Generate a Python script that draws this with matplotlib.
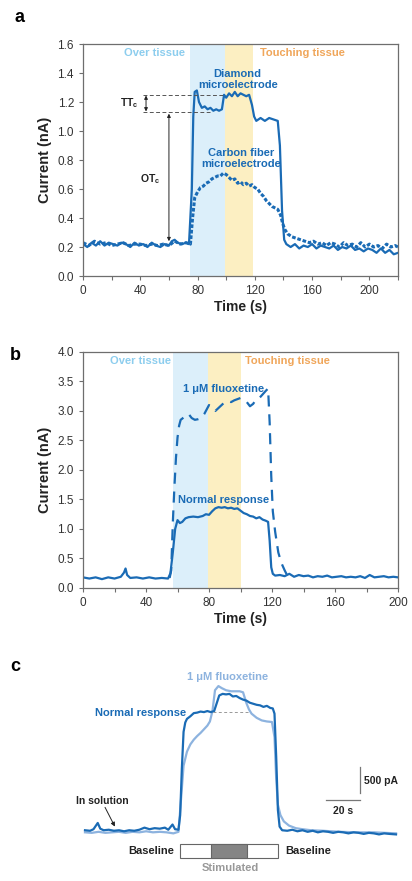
import matplotlib.pyplot as plt
from matplotlib.patches import Rectangle

plt.rcParams['font.family'] = ['Liberation Sans', 'DejaVu Sans']

# ---- panel a data (time s, current nA)
a_dia_t = [0, 3, 6, 9, 12, 15, 18, 21, 24, 27, 30, 33, 36, 39, 42, 45, 48, 51, 54, 57, 60, 62, 64, 66, 69, 72, 74,
           76, 77, 78, 79.5, 81, 83, 85, 87, 89, 91, 93, 95, 97, 98.5, 100, 102, 104, 106, 108, 110, 112, 114, 116,
           118, 119.5, 121, 124, 127, 130, 133, 136, 137.5, 139, 140.5, 142, 145, 148, 151, 154, 157, 160, 163, 166,
           169, 172, 175, 178, 181, 184, 187, 190, 193, 196, 199, 202, 205, 208, 211, 214, 217, 220]
a_dia_v = [0.22, 0.20, 0.23, 0.21, 0.24, 0.21, 0.23, 0.22, 0.21, 0.23, 0.22, 0.20, 0.23, 0.21, 0.22, 0.20, 0.23, 0.21,
           0.20, 0.22, 0.21, 0.24, 0.25, 0.23, 0.22, 0.23, 0.22,
           0.60, 1.10, 1.27, 1.28, 1.20, 1.16, 1.17, 1.15, 1.16, 1.14, 1.15, 1.14, 1.15, 1.25, 1.23, 1.26, 1.24, 1.27,
           1.24, 1.26, 1.25, 1.24, 1.25, 1.18, 1.10, 1.07, 1.09, 1.07, 1.09, 1.08, 1.07, 0.90, 0.45, 0.25, 0.22,
           0.20, 0.22, 0.19, 0.21, 0.20, 0.22, 0.19, 0.21, 0.20, 0.19, 0.21, 0.18, 0.20, 0.19, 0.21, 0.18, 0.19,
           0.17, 0.19, 0.18, 0.16, 0.19, 0.16, 0.18, 0.15, 0.16]
a_cf_t = [0, 4, 8, 12, 16, 20, 24, 28, 32, 36, 40, 44, 48, 52, 56, 60, 64, 68, 72, 75, 76.5, 78, 80, 82, 84, 86, 88,
          90, 92, 94, 96, 98, 100, 102, 104, 106, 108, 110, 112, 114, 116, 118, 120, 122, 124, 126, 128, 130, 132,
          134, 136, 138, 139.5, 141, 143, 146, 149, 152, 155, 158, 161, 164, 167, 170, 173, 176, 179, 182, 185, 188,
          191, 194, 197, 200, 203, 206, 209, 212, 215, 218, 220]
a_cf_v = [0.23, 0.21, 0.24, 0.22, 0.23, 0.21, 0.22, 0.23, 0.21, 0.22, 0.22, 0.21, 0.22, 0.21, 0.22, 0.21, 0.24, 0.22,
          0.23, 0.22, 0.40, 0.54, 0.58, 0.61, 0.62, 0.64, 0.65, 0.67, 0.68, 0.69, 0.69, 0.71, 0.70, 0.68, 0.66, 0.67,
          0.64, 0.65, 0.63, 0.64, 0.62, 0.63, 0.61, 0.60, 0.57, 0.55, 0.52, 0.50, 0.48, 0.47, 0.46, 0.42, 0.36, 0.32,
          0.29, 0.27, 0.26, 0.25, 0.24, 0.23, 0.24, 0.22, 0.23, 0.21, 0.23, 0.22, 0.20, 0.23, 0.21, 0.22, 0.20,
          0.23, 0.20, 0.22, 0.20, 0.21, 0.19, 0.22, 0.20, 0.21, 0.20]

# ---- panel b data
b_norm_t = [0, 4, 8, 12, 16, 20, 24, 26, 27, 28, 30, 34, 38, 42, 46, 50, 54, 55.5, 57, 58.5, 60, 61.5, 63, 65, 67,
            70, 73, 76, 78, 80, 82, 84, 86, 88, 90, 92, 94, 96, 98, 100, 102, 104, 106, 108, 110, 112, 114, 116,
            117.5, 118.5, 119.5, 120.5, 122, 125, 128, 131, 134, 137, 140, 143, 146, 149, 152, 155, 158, 161, 164,
            167, 170, 173, 176, 179, 182, 185, 188, 191, 194, 197, 200]
b_norm_v = [0.18, 0.16, 0.18, 0.15, 0.18, 0.16, 0.19, 0.26, 0.33, 0.22, 0.17, 0.18, 0.16, 0.18, 0.16, 0.17, 0.16,
            0.25, 0.60, 1.00, 1.15, 1.10, 1.12, 1.18, 1.20, 1.21, 1.20, 1.22, 1.25, 1.24, 1.30, 1.35, 1.37, 1.36,
            1.37, 1.35, 1.36, 1.34, 1.35, 1.31, 1.27, 1.25, 1.22, 1.21, 1.18, 1.20, 1.16, 1.14, 1.12, 0.80, 0.35,
            0.24, 0.21, 0.22, 0.20, 0.24, 0.19, 0.22, 0.20, 0.21, 0.18, 0.20, 0.19, 0.21, 0.18, 0.19, 0.20, 0.18,
            0.19, 0.18, 0.20, 0.17, 0.22, 0.18, 0.19, 0.20, 0.18, 0.19, 0.18]
b_flx_t = [55, 56, 57, 58, 59, 60, 61, 62, 63, 65, 67, 69, 71, 73, 75, 77, 79, 80, 82, 84, 86, 88, 90, 92, 94, 96,
           98, 100, 102, 104, 106, 108, 110, 112, 114, 116, 117.5, 118.5, 119.5, 120.5, 122, 124, 126, 128, 129.5,
           131]
b_flx_v = [0.17, 0.30, 1.10, 1.70, 2.20, 2.55, 2.75, 2.85, 2.87, 2.92, 2.95, 2.88, 2.85, 2.86, 2.88, 2.95, 3.05,
           3.10, 3.05, 3.00, 3.05, 3.10, 3.15, 3.17, 3.15, 3.18, 3.20, 3.22, 3.18, 3.15, 3.08, 3.12, 3.20, 3.22,
           3.28, 3.34, 3.38, 2.80, 1.90, 1.30, 0.95, 0.60, 0.42, 0.30, 0.22, 0.20]

# ---- panel c data (relative current, nA)
c_norm_t = [0, 3, 5, 7.5, 9, 11, 14, 17, 20, 23, 26, 29, 32, 35, 38, 41, 44, 47, 49, 51.5, 53, 55, 56, 57, 58, 59,
            60, 62, 64, 66, 68, 70, 72, 74, 76, 77.5, 79, 81, 83, 85, 87, 89, 91, 93, 95, 97, 99, 101, 103, 105, 107,
            109, 110.5, 111.5, 112.5, 113.5, 114.5, 116, 119, 122, 125, 128, 131, 134, 137, 140, 143, 146, 149, 152,
            155, 158, 161, 164, 167, 170, 173, 176, 179, 183]
c_norm_v = [0.01, 0.00, 0.03, 0.15, 0.04, 0.01, 0.02, 0.00, 0.01, -0.01, 0.01, 0.00, 0.02, 0.06, 0.03, 0.05, 0.04,
            0.06, 0.02, 0.12, 0.03, 0.02, 0.30, 1.20, 1.90, 2.08, 2.15, 2.20, 2.26, 2.27, 2.29, 2.28, 2.30, 2.28,
            2.30, 2.45, 2.60, 2.63, 2.62, 2.63, 2.58, 2.59, 2.55, 2.52, 2.50, 2.46, 2.44, 2.42, 2.41, 2.38, 2.40,
            2.36, 2.35, 2.25, 1.42, 0.40, 0.08, 0.01, 0.00, 0.02, -0.01, 0.01, -0.02, 0.00, -0.03, -0.01, -0.02,
            -0.04, -0.02, -0.03, -0.05, -0.03, -0.04, -0.06, -0.04, -0.05, -0.07, -0.05, -0.06, -0.07]
c_flx_t = [0, 4, 8, 12, 16, 20, 24, 28, 32, 36, 40, 44, 48, 52, 55, 56.5, 58, 60, 62, 64, 66, 68, 70, 72, 73.5, 75,
           76.5, 78.5, 80.5, 83, 86, 89, 91, 93, 95, 96.5, 98, 101, 104, 107, 110, 111.5, 112.5, 113.5, 115, 117,
           120, 124, 128, 133, 140, 150, 160, 170, 183]
c_flx_v = [-0.03, -0.04, -0.02, -0.04, -0.03, -0.02, -0.04, -0.02, -0.03, -0.01, -0.03, -0.02, -0.03, -0.05, -0.02,
           0.60, 1.25, 1.52, 1.66, 1.75, 1.82, 1.88, 1.95, 2.02, 2.10, 2.30, 2.70, 2.78, 2.74, 2.70, 2.68, 2.68,
           2.68, 2.66, 2.45, 2.33, 2.25, 2.17, 2.12, 2.10, 2.09, 1.80, 1.00, 0.50, 0.30, 0.18, 0.10, 0.05, 0.03,
           0.01, 0.00, -0.02, -0.03, -0.03, -0.05]

blue = '#1a6bb5'
light = '#8db3df'
shade_blue = '#dcefFa'
shade_yel = '#fcefc2'
over_col = '#8ccdee'
touch_col = '#f0a65a'

fig = plt.figure(figsize=(4.12, 8.81), dpi=100)


def style_axes(ax):
    for s in ax.spines.values():
        s.set_color('#6e6e6e')
        s.set_linewidth(0.9)
    ax.tick_params(labelsize=8.5, length=3, color='#6e6e6e', labelcolor='#333333')


# panel a
ax = fig.add_axes([0.2015, 0.6867, 0.7646, 0.2633])
ax.axvspan(75, 99, color=shade_blue, lw=0)
ax.axvspan(99, 119, color=shade_yel, lw=0)
ax.plot(a_cf_t, a_cf_v, color=blue, lw=2.2, ls=(0, (1.2, 0.6)))
ax.plot(a_dia_t, a_dia_v, color=blue, lw=1.6)
ax.plot([42, 99], [1.25, 1.25], color='#555555', lw=0.7, ls=(0, (4, 2.5)))
ax.plot([42, 89], [1.13, 1.13], color='#555555', lw=0.7, ls=(0, (4, 2.5)))
ax.annotate('', xy=(44, 1.245), xytext=(44, 1.135),
            arrowprops=dict(arrowstyle='<|-|>', color='#222222', lw=0.7, mutation_scale=5, shrinkA=0, shrinkB=0))
ax.annotate('', xy=(60, 1.12), xytext=(60, 0.24),
            arrowprops=dict(arrowstyle='<|-|>', color='#222222', lw=0.7, mutation_scale=5, shrinkA=0, shrinkB=0))
ax.text(32, 1.19, 'TT$_\\mathregular{c}$', fontsize=7.5, fontweight='bold', ha='center', va='center', color='#222222')
ax.text(47, 0.67, 'OT$_\\mathregular{c}$', fontsize=7.5, fontweight='bold', ha='center', va='center', color='#222222')
ax.text(50, 1.54, 'Over tissue', color=over_col, fontsize=8, fontweight='bold', ha='center', va='center')
ax.text(153, 1.54, 'Touching tissue', color=touch_col, fontsize=8, fontweight='bold', ha='center', va='center')
ax.text(108, 1.355, 'Diamond\nmicroelectrode', color=blue, fontsize=8, fontweight='bold', ha='center', va='center',
        linespacing=1.05)
ax.text(110.5, 0.81, 'Carbon fiber\nmicroelectrode', color=blue, fontsize=8, fontweight='bold', ha='center',
        va='center', linespacing=1.05)
ax.set_xlim(0, 220)
ax.set_ylim(0, 1.6)
ax.set_xticks(range(0, 221, 20))
ax.set_xticklabels(['0', '', '40', '', '80', '', '120', '', '160', '', '200', ''])
ax.set_yticks([0.0, 0.2, 0.4, 0.6, 0.8, 1.0, 1.2, 1.4, 1.6])
ax.set_yticklabels(['0.0', '0.2', '0.4', '0.6', '0.8', '1.0', '1.2', '1.4', '1.6'])
ax.set_xlabel('Time (s)', fontsize=10, fontweight='bold', labelpad=2, color='#222222')
ax.set_ylabel('Current (nA)', fontsize=10.5, fontweight='bold', labelpad=4, color='#222222')
style_axes(ax)
fig.text(0.035, 0.98, 'a', fontsize=13, fontweight='bold', va='center', ha='left')

# panel b
ax = fig.add_axes([0.2015, 0.3326, 0.7646, 0.2679])
ax.axvspan(57, 79.4, color=shade_blue, lw=0)
ax.axvspan(79.4, 100.5, color=shade_yel, lw=0)
ax.plot(b_flx_t, b_flx_v, color=blue, lw=1.6, ls=(0, (5, 3.5)))
ax.plot(b_norm_t, b_norm_v, color=blue, lw=1.6)
ax.text(36.5, 3.85, 'Over tissue', color=over_col, fontsize=8, fontweight='bold', ha='center', va='center')
ax.text(129.5, 3.85, 'Touching tissue', color=touch_col, fontsize=8, fontweight='bold', ha='center', va='center')
ax.text(89.3, 3.37, '1 μM fluoxetine', color=blue, fontsize=8, fontweight='bold', ha='center', va='center')
ax.text(89.3, 1.49, 'Normal response', color=blue, fontsize=8, fontweight='bold', ha='center', va='center')
ax.set_xlim(0, 200)
ax.set_ylim(0, 4)
ax.set_xticks(range(0, 201, 20))
ax.set_xticklabels(['0', '', '40', '', '80', '', '120', '', '160', '', '200'])
ax.set_yticks([0, 0.5, 1, 1.5, 2, 2.5, 3, 3.5, 4])
ax.set_yticklabels(['0.0', '0.5', '1.0', '1.5', '2.0', '2.5', '3.0', '3.5', '4.0'])
ax.set_xlabel('Time (s)', fontsize=10, fontweight='bold', labelpad=2, color='#222222')
ax.set_ylabel('Current (nA)', fontsize=10.5, fontweight='bold', labelpad=4, color='#222222')
style_axes(ax)
fig.text(0.025, 0.597, 'b', fontsize=13, fontweight='bold', va='center', ha='left')

# panel c
ax = fig.add_axes([0, 0, 1, 0.2508])
ax.set_xlim(-50, 192.4)
ax.set_ylim(-0.965, 3.28)
ax.axis('off')
ax.plot(c_flx_t, c_flx_v, color=light, lw=1.6)
ax.plot(c_norm_t, c_norm_v, color=blue, lw=1.6)
ax.plot([75.5, 97], [2.29, 2.29], color='#999999', lw=0.7, ls=(0, (3, 2.5)))
ax.text(83.7, 2.95, '1 μM fluoxetine', color=light, fontsize=8, fontweight='bold', ha='center', va='center')
ax.text(59.5, 2.26, 'Normal response', color=blue, fontsize=8, fontweight='bold', ha='right', va='center')
ax.text(10.4, 0.58, 'In solution', color='#222222', fontsize=7.5, fontweight='bold', ha='center', va='center')
ax.annotate('', xy=(17.6, 0.08), xytext=(11.8, 0.45),
            arrowprops=dict(arrowstyle='-|>', color='#222222', lw=0.7, mutation_scale=6, shrinkA=0, shrinkB=0))
ax.plot([161.8, 161.8], [0.73, 1.23], color='#777777', lw=0.9)
ax.plot([141.8, 161.8], [0.59, 0.59], color='#777777', lw=0.9)
ax.text(164, 0.96, '500 pA', color='#222222', fontsize=7.5, fontweight='bold', ha='left', va='center')
ax.text(151.6, 0.385, '20 s', color='#222222', fontsize=7.5, fontweight='bold', ha='center', va='center')
ax.add_patch(Rectangle((55.9, -0.53), 57.8, 0.274, facecolor='white', edgecolor='#666666', lw=0.8))
ax.add_patch(Rectangle((73.9, -0.53), 21.6, 0.274, facecolor='#858585', edgecolor='#666666', lw=0.8))
ax.text(52.4, -0.39, 'Baseline', color='#222222', fontsize=8, fontweight='bold', ha='right', va='center')
ax.text(117.6, -0.39, 'Baseline', color='#222222', fontsize=8, fontweight='bold', ha='left', va='center')
ax.text(85.3, -0.72, 'Stimulated', color='#999999', fontsize=8, fontweight='bold', ha='center', va='center')
fig.text(0.025, 0.244, 'c', fontsize=13, fontweight='bold', va='center', ha='left')

fig.savefig('out.png', dpi=100)
